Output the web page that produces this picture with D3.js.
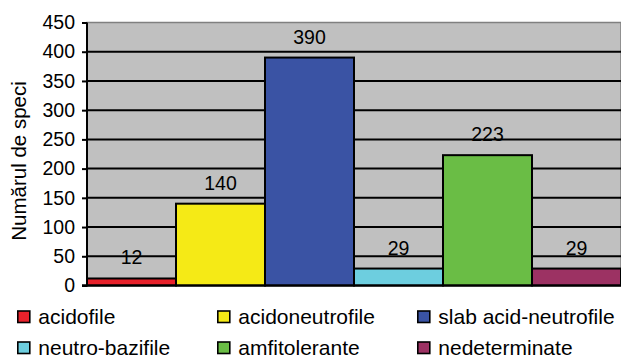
<!DOCTYPE html>
<html>
<head>
<meta charset="utf-8">
<script src="https://cdn.jsdelivr.net/npm/d3@7"></script>
<style>
  html, body { margin: 0; padding: 0; background: #fff; }
  svg { display: block; font-family: Arial, "Liberation Sans", sans-serif; }
</style>
</head>
<body>
<svg id="chart" width="621" height="358"></svg>
<script>
// Species counts by soil-reaction group
const categories = ["acidofile", "acidoneutrofile", "slab acid-neutrofile", "neutro-bazifile", "amfitolerante", "nedeterminate"];
const values = [12, 140, 390, 29, 223, 29];
const colors = ["#E8222B", "#F5EA16", "#3A53A4", "#6DCEDF", "#6ABD45", "#9C3263"];
const yTicks = [0, 50, 100, 150, 200, 250, 300, 350, 400, 450];
const yTitle = "Numărul de speci";

const svg = d3.select("#chart");
const plotLeft = 87, plotRight = 621, plotTop = 22.5, plotBottom = 285.5;

const x = d3.scaleBand().domain(categories).range([plotLeft, plotRight]).paddingInner(0).paddingOuter(0);
const y = d3.scaleLinear().domain([0, 450]).range([plotBottom, plotTop]);

// plot area
svg.append("rect")
  .attr("x", plotLeft).attr("y", plotTop)
  .attr("width", plotRight - plotLeft).attr("height", plotBottom - plotTop)
  .attr("fill", "#C0C0C0").attr("stroke", "#808080").attr("stroke-width", 1.5);

// horizontal gridlines
svg.append("g").selectAll("line")
  .data(yTicks.filter(d => d > 0 && d < 450))
  .join("line")
  .attr("x1", plotLeft).attr("x2", plotRight)
  .attr("y1", d => y(d)).attr("y2", d => y(d))
  .attr("stroke", "#000").attr("stroke-width", 2);

// bars
svg.append("g").selectAll("rect")
  .data(values)
  .join("rect")
  .attr("x", (d, i) => x(categories[i]))
  .attr("y", d => y(d))
  .attr("width", x.bandwidth())
  .attr("height", d => y(0) - y(d))
  .attr("fill", (d, i) => colors[i])
  .attr("stroke", "#000").attr("stroke-width", 2);

// value labels
svg.append("g").selectAll("text")
  .data(values)
  .join("text")
  .attr("x", (d, i) => x(categories[i]) + x.bandwidth() / 2)
  .attr("y", d => y(d) - 14)
  .attr("text-anchor", "middle")
  .attr("font-size", 19.5)
  .attr("fill", "#000")
  .text(d => d);

// y axis
const yAxis = d3.axisLeft(y).tickValues(yTicks).tickSize(5).tickPadding(7);
const gy = svg.append("g").attr("transform", `translate(${plotLeft},0)`).call(yAxis);
gy.select(".domain").attr("stroke", "#000").attr("stroke-width", 2).attr("d", `M-5,${plotBottom}H0V${plotTop}`);
gy.selectAll(".tick line").attr("stroke", "#000").attr("stroke-width", 2);
gy.selectAll(".tick text").attr("font-size", 19.5).attr("fill", "#000").attr("font-family", "Arial, 'Liberation Sans', sans-serif");

// x baseline
svg.append("line")
  .attr("x1", plotLeft - 5).attr("x2", plotRight)
  .attr("y1", plotBottom).attr("y2", plotBottom)
  .attr("stroke", "#000").attr("stroke-width", 2);

// y axis title
svg.append("text")
  .attr("transform", `translate(26,161) rotate(-90)`)
  .attr("text-anchor", "middle")
  .attr("font-size", 20.5)
  .attr("fill", "#000")
  .text(yTitle);

// legend
const legendCols = [17.3, 217.3, 417.3];
const legendRows = [324, 355];
const lg = svg.append("g").selectAll("g")
  .data(categories)
  .join("g")
  .attr("transform", (d, i) => `translate(${legendCols[i % 3]},${legendRows[Math.floor(i / 3)]})`);
lg.append("rect")
  .attr("x", 0.5).attr("y", -13).attr("width", 12).attr("height", 11.5)
  .attr("fill", (d, i) => colors[i])
  .attr("stroke", "#000").attr("stroke-width", 1.6);
lg.append("text")
  .attr("x", 21).attr("y", 0)
  .attr("font-size", 21)
  .attr("fill", "#000")
  .text(d => d);
</script>
</body>
</html>
